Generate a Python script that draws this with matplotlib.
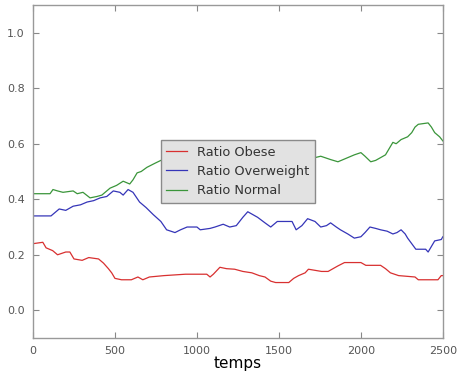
import numpy as np
import matplotlib
matplotlib.use('Agg')
import matplotlib.pyplot as plt

# valeurs (temps, ratio)
t_obese = [0, 60, 80, 120, 150, 200, 225, 250, 300, 340, 400, 430, 460, 480, 500, 540, 600,
           640, 670, 710, 800, 930, 1060, 1080, 1100, 1140, 1180, 1230, 1280, 1335, 1380,
           1415, 1450, 1480, 1560, 1590, 1620, 1660, 1680, 1760, 1800, 1830, 1860, 1900,
           2000, 2030, 2120, 2150, 2180, 2230, 2330, 2350, 2470, 2490, 2500]
obese = [0.24, 0.245, 0.225, 0.215, 0.20, 0.21, 0.21, 0.185, 0.18, 0.19, 0.185, 0.17, 0.15,
         0.135, 0.115, 0.11, 0.11, 0.12, 0.11, 0.12, 0.125, 0.13, 0.13, 0.12, 0.13, 0.155,
         0.15, 0.148, 0.14, 0.135, 0.125, 0.12, 0.105, 0.10, 0.10, 0.115, 0.125, 0.135,
         0.148, 0.14, 0.14, 0.15, 0.16, 0.172, 0.172, 0.162, 0.162, 0.15, 0.135, 0.125,
         0.12, 0.11, 0.11, 0.125, 0.125]

t_over = [0, 110, 140, 160, 200, 245, 290, 330, 370, 410, 450, 490, 530, 550, 580, 610, 650,
          690, 733, 780, 815, 866, 900, 940, 1000, 1020, 1080, 1110, 1160, 1200, 1240, 1280,
          1310, 1340, 1370, 1415, 1450, 1490, 1580, 1605, 1640, 1675, 1720, 1755, 1790,
          1815, 1850, 1875, 1920, 1960, 2000, 2025, 2055, 2090, 2120, 2160, 2195, 2220,
          2245, 2270, 2285, 2310, 2335, 2395, 2410, 2430, 2450, 2490, 2500]
overweight = [0.34, 0.34, 0.355, 0.365, 0.36, 0.375, 0.38, 0.39, 0.395, 0.405, 0.41, 0.43,
              0.425, 0.415, 0.435, 0.425, 0.39, 0.37, 0.345, 0.32, 0.29, 0.28, 0.29, 0.30,
              0.30, 0.29, 0.295, 0.30, 0.31, 0.30, 0.305, 0.335, 0.355, 0.345, 0.335, 0.315,
              0.30, 0.32, 0.32, 0.29, 0.305, 0.33, 0.32, 0.30, 0.305, 0.315, 0.30, 0.29,
              0.275, 0.26, 0.265, 0.28, 0.30, 0.295, 0.29, 0.285, 0.275, 0.28, 0.29, 0.275,
              0.26, 0.24, 0.22, 0.22, 0.21, 0.23, 0.25, 0.255, 0.265]

t_normal = [0, 104, 122, 150, 183, 245, 270, 305, 348, 390, 420, 470, 510, 550, 590, 610,
            635, 660, 695, 745, 780, 850, 950, 1050, 1150, 1250, 1350, 1450, 1550, 1650,
            1720, 1755, 1815, 1860, 1900, 1960, 2000, 2025, 2060, 2090, 2120, 2150, 2170,
            2195, 2215, 2245, 2285, 2310, 2330, 2350, 2410, 2430, 2450, 2480, 2500]
normal = [0.42, 0.42, 0.435, 0.43, 0.425, 0.43, 0.42, 0.425, 0.405, 0.41, 0.415, 0.44, 0.45,
          0.465, 0.455, 0.47, 0.495, 0.50, 0.515, 0.53, 0.54, 0.545, 0.55, 0.54, 0.555,
          0.545, 0.56, 0.55, 0.545, 0.56, 0.55, 0.555, 0.543, 0.535, 0.545, 0.56, 0.568,
          0.555, 0.535, 0.54, 0.55, 0.56, 0.58, 0.605, 0.60, 0.615, 0.625, 0.64, 0.66, 0.67,
          0.675, 0.66, 0.64, 0.625, 0.61]

labels = ['Ratio Obese', 'Ratio Overweight', 'Ratio Normal']
couleurs = ['#d83030', '#3535b8', '#3a953a']

fig = plt.figure(figsize=(4.58, 3.79), dpi=100)
ax = fig.add_axes([0.072, 0.108, 0.895, 0.879])

ax.plot(t_obese, obese, color=couleurs[0], lw=0.9, label=labels[0])
ax.plot(t_over, overweight, color=couleurs[1], lw=0.9, label=labels[1])
ax.plot(t_normal, normal, color=couleurs[2], lw=0.9, label=labels[2])

ax.set_xlim(0, 2500)
ax.set_ylim(-0.1, 1.1)
ax.set_xticks(np.arange(0, 2501, 500))
ax.set_yticks(np.arange(0, 1.01, 0.2))
ax.set_yticklabels(['0.0', '0.2', '0.4', '0.6', '0.8', '1.0'])
ax.tick_params(direction='in', length=4, width=0.8, color='#888888',
               top=True, right=True, labelsize=8, labelcolor='#555555', pad=6)
for s in ax.spines.values():
    s.set_color('#999999')
    s.set_linewidth(1.0)

ax.set_xlabel('temps', fontsize=11, labelpad=0)

leg = ax.legend(loc='center', fontsize=9.3, handlelength=1.6, labelspacing=0.5,
                borderpad=0.4, fancybox=False, framealpha=1)
leg.get_frame().set_facecolor('#e2e2e2')
leg.get_frame().set_edgecolor('#8a8a8a')
for txt in leg.get_texts():
    txt.set_color('#333333')

plt.savefig('out.png', dpi=100)
